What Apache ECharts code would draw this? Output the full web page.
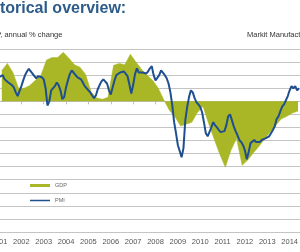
<!DOCTYPE html>
<html>
<head>
<meta charset="utf-8">
<script src="https://cdn.jsdelivr.net/npm/echarts@6/dist/echarts.min.js"></script>
<style>
    html, body { margin: 0; padding: 0; background: #fff; }
    #chart { width: 300px; height: 252px; }
</style>
</head>
<body>
<div id="chart"></div>
<script>
// GDP, annual % change, quarterly from 2001 Q1
var gdpStartYear = 2001;
var gdpValues = [
    4.7, 5.8, 4.4, 2.0, 2.0, 2.4, 3.2, 4.0,
    6.3, 6.7, 6.7, 7.5, 6.6, 5.6, 5.2, 4.1,
    1.4, 0.5, 0.3, 0.6, 5.5, 5.8, 5.6, 7.2,
    6.0, 4.9, 4.0, 3.2, 2.0, 0.2, -1.4, -2.4,
    -3.8, -3.5, -3.2, -1.7, -0.8, -3.4, -5.8, -8.1,
    -10.1, -7.5, -5.7, -9.8, -9.0, -7.9, -6.9, -5.8,
    -4.7, -3.7, -2.7, -2.3, -1.8, -1.5
];

// Markit Manufacturing PMI, monthly from Jan 2001
var pmiStartYear = 2001;
var pmiValues = [
    54.6, 54.8, 55.0, 54.2, 53.9, 53.6, 53.5, 53.1, 52.6, 51.7, 51.0, 51.1,
    52.9, 54.0, 55.0, 55.7, 56.2, 55.9, 55.3, 54.8, 54.4, 54.8, 55.0, 54.6,
    54.2, 52.5, 49.2, 50.0, 52.1, 52.3, 52.9, 53.6, 53.1, 52.1, 50.4, 50.8,
    52.7, 54.0, 55.2, 55.9, 55.5, 55.2, 54.6, 54.4, 54.2, 53.6, 52.9, 52.5,
    52.1, 51.7, 51.1, 50.6, 51.1, 52.3, 53.1, 53.8, 54.2, 54.4, 53.4, 52.1,
    51.3, 52.7, 54.0, 55.0, 55.3, 55.5, 55.5, 55.7, 55.9, 54.8, 53.2, 51.5,
    53.1, 55.2, 56.3, 55.5, 55.3, 55.5, 55.3, 55.3, 55.7, 56.3, 56.7, 55.0,
    54.0, 53.8, 55.0, 55.9, 55.7, 55.0, 54.4, 53.4, 51.7, 49.2, 46.0, 43.9,
    41.6, 40.5, 39.3, 41.0, 46.4, 48.9, 50.8, 52.1, 51.7, 50.6, 49.8, 49.4,
    48.9, 47.9, 46.0, 43.9, 43.3, 43.1, 45.0, 46.0, 45.4, 45.0, 44.5, 44.1,
    44.1, 44.3, 45.4, 47.1, 47.5, 46.4, 45.2, 44.3, 43.5, 42.6, 42.2, 41.6,
    40.6, 38.9, 40.3, 42.0, 42.0, 42.6, 42.2, 42.0, 42.2, 42.6, 42.9, 42.9,
    43.1, 43.3, 43.9, 44.5, 45.2, 46.6, 47.1, 48.1, 49.0, 49.4, 50.2, 51.0,
    52.1, 52.9, 52.5, 52.9, 52.1, 52.5
];

var yearTicks = [2001, 2015];
var gdpAxis = [-20, 8, 2];
var pmiAxis = [25, 60, 2.5];

var gdpData = gdpValues.map(function (v, i) {
    return [gdpStartYear + i / 4 + 0.125, v];
});
var pmiData = pmiValues.map(function (v, i) {
    return [pmiStartYear + i / 12, v];
});

var myChart = echarts.init(document.getElementById("chart"), null, { renderer: "canvas" });
var green = "#a9b726";
var blue = "#1f4f8f";
var font = "Liberation Sans, Arial, sans-serif";

var option = {
    animation: false,
    grid: {
        left: -1,
        right: -12,
        top: 49,
        bottom: 20,
        outerBoundsMode: "none",
        containLabel: false
    },
    graphic: [
        {
            type: "text",
            left: -25,
            top: 1,
            style: {
                text: "Historical overview:",
                fill: "#2d5c8a",
                font: "bold 16px " + font
            }
        },
        {
            type: "text",
            left: -15,
            top: 31,
            style: {
                text: "GDP, annual % change",
                fill: "#333",
                font: "7.5px " + font
            }
        },
        {
            type: "text",
            left: 247,
            top: 31,
            style: {
                text: "Markit Manufacturing PMI",
                fill: "#333",
                font: "7.5px " + font
            }
        }
    ],
    legend: [
        {
            data: ["GDP"],
            left: 30,
            top: 182.5,
            padding: 0,
            icon: "rect",
            itemWidth: 20,
            itemHeight: 3,
            textStyle: { fontSize: 5.5, color: "#666", fontFamily: font }
        },
        {
            data: ["PMI"],
            left: 30,
            top: 197.5,
            padding: 0,
            icon: "rect",
            itemWidth: 20,
            itemHeight: 1.5,
            textStyle: { fontSize: 5.5, color: "#666", fontFamily: font }
        }
    ],
    xAxis: [
        {
            type: "value",
            min: yearTicks[0],
            max: yearTicks[1],
            interval: 1,
            position: "bottom",
            axisLine: { show: true, onZero: true, lineStyle: { color: "#bbb", width: 1 } },
            axisTick: { show: true, length: 3, lineStyle: { color: "#bbb" } },
            axisLabel: { show: false },
            splitLine: { show: false }
        },
        {
            type: "value",
            min: yearTicks[0],
            max: yearTicks[1],
            interval: 1,
            position: "bottom",
            axisLine: { show: false, onZero: false },
            axisTick: { show: false },
            axisLabel: {
                show: true,
                margin: 6,
                fontSize: 7.5,
                color: "#555",
                fontFamily: font,
                formatter: function (v) { return String(v); }
            },
            splitLine: { show: false }
        }
    ],
    yAxis: [
        {
            type: "value",
            min: gdpAxis[0],
            max: gdpAxis[1],
            interval: gdpAxis[2],
            axisLine: { show: false },
            axisTick: { show: false },
            axisLabel: { show: false },
            splitLine: { show: true, lineStyle: { color: "#c4c4c4", width: 1 } }
        },
        {
            type: "value",
            min: pmiAxis[0],
            max: pmiAxis[1],
            interval: pmiAxis[2],
            axisLine: { show: false },
            axisTick: { show: false },
            axisLabel: { show: false },
            splitLine: { show: false }
        }
    ],
    series: [
        {
            name: "GDP",
            type: "line",
            xAxisIndex: 0,
            yAxisIndex: 0,
            data: gdpData,
            showSymbol: false,
            itemStyle: { color: green },
            lineStyle: { color: green, width: 0.5 },
            areaStyle: { color: green, opacity: 1 },
            z: 2
        },
        {
            name: "PMI",
            type: "line",
            xAxisIndex: 0,
            yAxisIndex: 1,
            data: pmiData,
            showSymbol: false,
            itemStyle: { color: blue },
            lineStyle: { color: blue, width: 2 },
            z: 3
        }
    ]
};
myChart.setOption(option);
</script>
</body>
</html>
